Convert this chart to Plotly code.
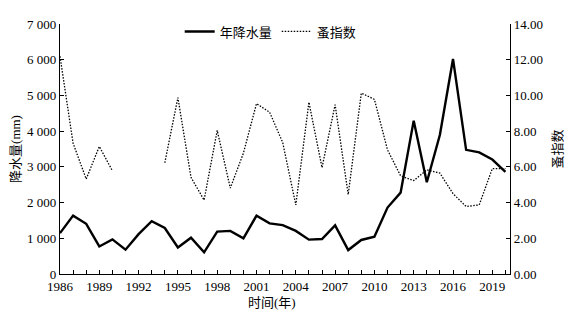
import plotly.graph_objects as go

years = list(range(1986, 2021))
precip = [1144, 1635, 1406, 771, 970, 681, 1117, 1480, 1289, 744,
          1016, 608, 1188, 1207, 997, 1635, 1417, 1370, 1207, 962,
          981, 1362, 670, 953, 1043, 1861, 2278, 4294, 2569, 3900,
          6022, 3477, 3406, 3204, 2861]
flea = [12.19, 7.32, 5.32, 7.14, 5.78, None, None, None, 6.23, 9.88,
        5.41, 4.14, 8.04, 4.81, 6.77, 9.54, 9.06, 7.36, 3.87, 9.62,
        5.96, 9.48, 4.45, 10.13, 9.78, 6.95, 5.50, 5.23, 5.83, 5.65,
        4.50, 3.78, 3.87, 5.90, 5.90]

left_vals = [0, 1000, 2000, 3000, 4000, 5000, 6000, 7000]
left_text = ["0", "1 000", "2 000", "3 000", "4 000", "5 000", "6 000", "7 000"]
right_vals = [0, 2, 4, 6, 8, 10, 12, 14]
right_text = ["0.00", "2.00", "4.00", "6.00", "8.00", "10.00", "12.00", "14.00"]
x_text = [str(y) if (y - 1986) % 3 == 0 else "" for y in years]

FONT = "Liberation Serif, Noto Sans CJK SC, serif"

fig = go.Figure()
fig.add_trace(go.Scatter(x=years, y=precip, name="年降水量", mode="lines",
                         line=dict(color="black", width=2.4), yaxis="y"))
fig.add_trace(go.Scatter(x=years, y=flea, name="蚤指数", mode="lines",
                         line=dict(color="black", width=1.3, dash="1.5px,1.5px"),
                         connectgaps=False, yaxis="y2"))

fig.update_layout(
    width=566, height=306, autosize=False,
    margin=dict(l=52, r=64, t=9, b=40),
    paper_bgcolor="white", plot_bgcolor="white",
    font=dict(family=FONT, size=13, color="black"),
    showlegend=True,
    legend=dict(orientation="h", x=0.266, y=1.03, xanchor="left", yanchor="top",
                bgcolor="rgba(0,0,0,0)", font=dict(size=13), itemwidth=30,
                tracegroupgap=0),
    xaxis=dict(range=[1986, 2020.35], tickvals=years, ticktext=x_text,
               ticks="inside", ticklen=4, tickcolor="black", showgrid=False,
               showline=True, linecolor="black", linewidth=1.2, zeroline=False,
               tickangle=0, tickfont=dict(size=13), automargin=False),
    yaxis=dict(range=[0, 7000], tickvals=left_vals, ticktext=left_text,
               ticks="inside", ticklen=4, tickcolor="black", showgrid=False,
               showline=True, linecolor="black", linewidth=1.2, zeroline=False,
               tickfont=dict(size=13), automargin=False,
               title=dict(text="降水量(mm)", font=dict(size=13), standoff=8)),
    yaxis2=dict(range=[0, 14], tickvals=right_vals, ticktext=right_text,
                overlaying="y", side="right", anchor="x",
                ticks="inside", ticklen=4, tickcolor="black", showgrid=False,
                showline=True, linecolor="black", linewidth=1.2, zeroline=False,
                tickfont=dict(size=13), automargin=False,
                title=dict(text="蚤指数", font=dict(size=13), standoff=10)),
    annotations=[dict(text="时间(年)", xref="paper", yref="paper",
                      x=0.47, y=0, yshift=-28, xanchor="center", yanchor="middle",
                      showarrow=False, font=dict(size=13))],
)

fig.write_html("out.html")
